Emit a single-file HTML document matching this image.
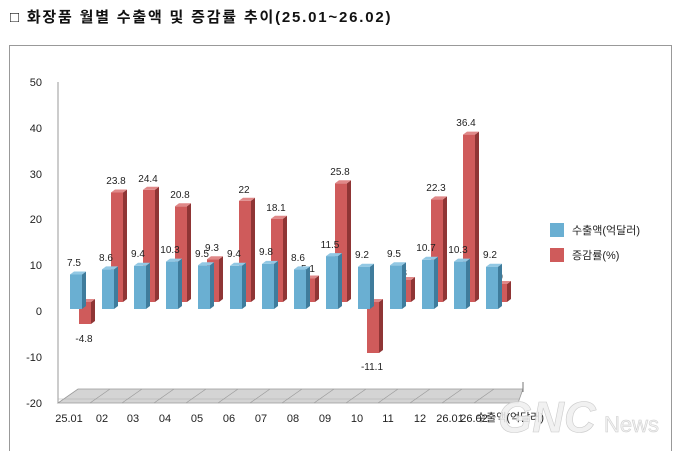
<!DOCTYPE html>
<html><head><meta charset="utf-8"><style>
body{margin:0;background:#fff;width:680px;height:451px;overflow:hidden}
svg{display:block;font-family:"Liberation Sans","Noto Sans CJK KR",sans-serif}
</style></head><body>
<svg width="680" height="451" viewBox="0 0 680 451">
<text x="10" y="22" font-size="15" font-weight="bold" fill="#111" letter-spacing="1.8">□ 화장품 월별 수출액 및 증감률 추이(25.01~26.02)</text>
<rect x="9.5" y="45.5" width="662" height="410" fill="#fff" stroke="#999"/>
<line x1="58" y1="82" x2="58" y2="403" stroke="#999"/>
<g font-size="11" fill="#222" text-anchor="end">
<text x="42" y="86">50</text><text x="42" y="132">40</text><text x="42" y="178">30</text><text x="42" y="223">20</text><text x="42" y="269">10</text><text x="42" y="315">0</text><text x="42" y="361">-10</text><text x="42" y="407">-20</text>
</g>
<polygon points="58,403 518,403 523,389 78,389" fill="#d4d4d4" stroke="#999" stroke-width="0.8"/>
<line x1="58" y1="399" x2="520" y2="399" stroke="#aaa" stroke-width="0.6"/>
<g stroke="#999" stroke-width="0.6">
<line x1="90" y1="403" x2="110" y2="389"/><line x1="122" y1="403" x2="142" y2="389"/><line x1="154" y1="403" x2="174" y2="389"/><line x1="186" y1="403" x2="206" y2="389"/><line x1="218" y1="403" x2="238" y2="389"/><line x1="250" y1="403" x2="270" y2="389"/><line x1="282" y1="403" x2="302" y2="389"/><line x1="314" y1="403" x2="334" y2="389"/><line x1="346" y1="403" x2="366" y2="389"/><line x1="378" y1="403" x2="398" y2="389"/><line x1="410" y1="403" x2="430" y2="389"/><line x1="442" y1="403" x2="462" y2="389"/><line x1="474" y1="403" x2="494" y2="389"/>
</g>
<line x1="523" y1="382" x2="523" y2="392" stroke="#777"/>
<g>
<g transform="translate(79,0)"><rect x="0" y="302" width="12" height="22" fill="#cf5b5b"/><polygon points="12,302 16,299 16,321 12,324" fill="#8f3535"/><polygon points="0,302 4,299 16,299 12,302" fill="#e08888"/></g>
<g transform="translate(111,0)"><rect x="0" y="192.5" width="12" height="109.5" fill="#cf5b5b"/><polygon points="12,192.5 16,189.5 16,299 12,302" fill="#8f3535"/><polygon points="0,192.5 4,189.5 16,189.5 12,192.5" fill="#e08888"/></g>
<g transform="translate(143,0)"><rect x="0" y="189.8" width="12" height="112.2" fill="#cf5b5b"/><polygon points="12,189.8 16,186.8 16,299 12,302" fill="#8f3535"/><polygon points="0,189.8 4,186.8 16,186.8 12,189.8" fill="#e08888"/></g>
<g transform="translate(175,0)"><rect x="0" y="206.3" width="12" height="95.7" fill="#cf5b5b"/><polygon points="12,206.3 16,203.3 16,299 12,302" fill="#8f3535"/><polygon points="0,206.3 4,203.3 16,203.3 12,206.3" fill="#e08888"/></g>
<g transform="translate(207,0)"><rect x="0" y="259.2" width="12" height="42.8" fill="#cf5b5b"/><polygon points="12,259.2 16,256.2 16,299 12,302" fill="#8f3535"/><polygon points="0,259.2 4,256.2 16,256.2 12,259.2" fill="#e08888"/></g>
<g transform="translate(239,0)"><rect x="0" y="200.8" width="12" height="101.2" fill="#cf5b5b"/><polygon points="12,200.8 16,197.8 16,299 12,302" fill="#8f3535"/><polygon points="0,200.8 4,197.8 16,197.8 12,200.8" fill="#e08888"/></g>
<g transform="translate(271,0)"><rect x="0" y="218.7" width="12" height="83.3" fill="#cf5b5b"/><polygon points="12,218.7 16,215.7 16,299 12,302" fill="#8f3535"/><polygon points="0,218.7 4,215.7 16,215.7 12,218.7" fill="#e08888"/></g>
<g transform="translate(303,0)"><rect x="0" y="278.5" width="12" height="23.5" fill="#cf5b5b"/><polygon points="12,278.5 16,275.5 16,299 12,302" fill="#8f3535"/><polygon points="0,278.5 4,275.5 16,275.5 12,278.5" fill="#e08888"/></g>
<g transform="translate(335,0)"><rect x="0" y="183.3" width="12" height="118.7" fill="#cf5b5b"/><polygon points="12,183.3 16,180.3 16,299 12,302" fill="#8f3535"/><polygon points="0,183.3 4,180.3 16,180.3 12,183.3" fill="#e08888"/></g>
<g transform="translate(367,0)"><rect x="0" y="302" width="12" height="51" fill="#cf5b5b"/><polygon points="12,302 16,299 16,350 12,353" fill="#8f3535"/><polygon points="0,302 4,299 16,299 12,302" fill="#e08888"/></g>
<g transform="translate(399,0)"><rect x="0" y="280" width="12" height="22" fill="#cf5b5b"/><polygon points="12,280 16,277 16,299 12,302" fill="#8f3535"/><polygon points="0,280 4,277 16,277 12,280" fill="#e08888"/></g>
<g transform="translate(431,0)"><rect x="0" y="199.4" width="12" height="102.6" fill="#cf5b5b"/><polygon points="12,199.4 16,196.4 16,299 12,302" fill="#8f3535"/><polygon points="0,199.4 4,196.4 16,196.4 12,199.4" fill="#e08888"/></g>
<g transform="translate(463,0)"><rect x="0" y="134.6" width="12" height="167.4" fill="#cf5b5b"/><polygon points="12,134.6 16,131.6 16,299 12,302" fill="#8f3535"/><polygon points="0,134.6 4,131.6 16,131.6 12,134.6" fill="#e08888"/></g>
<g transform="translate(495,0)"><rect x="0" y="284" width="12" height="18" fill="#cf5b5b"/><polygon points="12,284 16,281 16,299 12,302" fill="#8f3535"/><polygon points="0,284 4,281 16,281 12,284" fill="#e08888"/></g>
</g>
<!-- small red labels occluded by blue bars -->
<g font-size="10" fill="#222" text-anchor="middle">
<text x="308" y="272">5.1</text><text x="400" y="276">4.8</text><text x="496" y="280">3.9</text>
</g>
<g>
<g transform="translate(70,0)"><rect x="0" y="274.5" width="12" height="34.5" fill="#6aafd2"/><polygon points="12,274.5 16,271.5 16,306 12,309" fill="#3f7c9c"/><polygon points="0,274.5 4,271.5 16,271.5 12,274.5" fill="#92c8e4"/></g>
<g transform="translate(102,0)"><rect x="0" y="269.4" width="12" height="39.6" fill="#6aafd2"/><polygon points="12,269.4 16,266.4 16,306 12,309" fill="#3f7c9c"/><polygon points="0,269.4 4,266.4 16,266.4 12,269.4" fill="#92c8e4"/></g>
<g transform="translate(134,0)"><rect x="0" y="265.8" width="12" height="43.2" fill="#6aafd2"/><polygon points="12,265.8 16,262.8 16,306 12,309" fill="#3f7c9c"/><polygon points="0,265.8 4,262.8 16,262.8 12,265.8" fill="#92c8e4"/></g>
<g transform="translate(166,0)"><rect x="0" y="261.6" width="12" height="47.4" fill="#6aafd2"/><polygon points="12,261.6 16,258.6 16,306 12,309" fill="#3f7c9c"/><polygon points="0,261.6 4,258.6 16,258.6 12,261.6" fill="#92c8e4"/></g>
<g transform="translate(198,0)"><rect x="0" y="265.3" width="12" height="43.7" fill="#6aafd2"/><polygon points="12,265.3 16,262.3 16,306 12,309" fill="#3f7c9c"/><polygon points="0,265.3 4,262.3 16,262.3 12,265.3" fill="#92c8e4"/></g>
<g transform="translate(230,0)"><rect x="0" y="265.8" width="12" height="43.2" fill="#6aafd2"/><polygon points="12,265.8 16,262.8 16,306 12,309" fill="#3f7c9c"/><polygon points="0,265.8 4,262.8 16,262.8 12,265.8" fill="#92c8e4"/></g>
<g transform="translate(262,0)"><rect x="0" y="263.9" width="12" height="45.1" fill="#6aafd2"/><polygon points="12,263.9 16,260.9 16,306 12,309" fill="#3f7c9c"/><polygon points="0,263.9 4,260.9 16,260.9 12,263.9" fill="#92c8e4"/></g>
<g transform="translate(294,0)"><rect x="0" y="269.4" width="12" height="39.6" fill="#6aafd2"/><polygon points="12,269.4 16,266.4 16,306 12,309" fill="#3f7c9c"/><polygon points="0,269.4 4,266.4 16,266.4 12,269.4" fill="#92c8e4"/></g>
<g transform="translate(326,0)"><rect x="0" y="256.1" width="12" height="52.9" fill="#6aafd2"/><polygon points="12,256.1 16,253.1 16,306 12,309" fill="#3f7c9c"/><polygon points="0,256.1 4,253.1 16,253.1 12,256.1" fill="#92c8e4"/></g>
<g transform="translate(358,0)"><rect x="0" y="266.7" width="12" height="42.3" fill="#6aafd2"/><polygon points="12,266.7 16,263.7 16,306 12,309" fill="#3f7c9c"/><polygon points="0,266.7 4,263.7 16,263.7 12,266.7" fill="#92c8e4"/></g>
<g transform="translate(390,0)"><rect x="0" y="265.3" width="12" height="43.7" fill="#6aafd2"/><polygon points="12,265.3 16,262.3 16,306 12,309" fill="#3f7c9c"/><polygon points="0,265.3 4,262.3 16,262.3 12,265.3" fill="#92c8e4"/></g>
<g transform="translate(422,0)"><rect x="0" y="259.8" width="12" height="49.2" fill="#6aafd2"/><polygon points="12,259.8 16,256.8 16,306 12,309" fill="#3f7c9c"/><polygon points="0,259.8 4,256.8 16,256.8 12,259.8" fill="#92c8e4"/></g>
<g transform="translate(454,0)"><rect x="0" y="261.6" width="12" height="47.4" fill="#6aafd2"/><polygon points="12,261.6 16,258.6 16,306 12,309" fill="#3f7c9c"/><polygon points="0,261.6 4,258.6 16,258.6 12,261.6" fill="#92c8e4"/></g>
<g transform="translate(486,0)"><rect x="0" y="266.7" width="12" height="42.3" fill="#6aafd2"/><polygon points="12,266.7 16,263.7 16,306 12,309" fill="#3f7c9c"/><polygon points="0,266.7 4,263.7 16,263.7 12,266.7" fill="#92c8e4"/></g>
</g>
<g font-size="10" fill="#222" text-anchor="middle">
<text x="74" y="266">7.5</text><text x="106" y="261">8.6</text><text x="138" y="257">9.4</text><text x="170" y="253">10.3</text><text x="202" y="257">9.5</text><text x="234" y="257">9.4</text><text x="266" y="255">9.8</text><text x="298" y="261">8.6</text><text x="330" y="248">11.5</text><text x="362" y="258">9.2</text><text x="394" y="257">9.5</text><text x="426" y="251">10.7</text><text x="458" y="253">10.3</text><text x="490" y="258">9.2</text>
<text x="84" y="342">-4.8</text><text x="116" y="184">23.8</text><text x="148" y="182">24.4</text><text x="180" y="198">20.8</text><text x="212" y="251">9.3</text><text x="244" y="193">22</text><text x="276" y="211">18.1</text><text x="340" y="175">25.8</text><text x="372" y="370">-11.1</text><text x="436" y="191">22.3</text><text x="466" y="126">36.4</text>
</g>
<g font-size="11" fill="#222" text-anchor="middle">
<text x="69" y="422">25.01</text><text x="102" y="422">02</text><text x="133" y="422">03</text><text x="165" y="422">04</text><text x="197" y="422">05</text><text x="229" y="422">06</text><text x="261" y="422">07</text><text x="293" y="422">08</text><text x="325" y="422">09</text><text x="357" y="422">10</text><text x="388" y="422">11</text><text x="420" y="422">12</text><text x="450" y="422">26.01</text><text x="474" y="422">26.02</text>
<text x="510" y="421" font-size="11">수출액(억달러)</text>
</g>
<rect x="550" y="223" width="14" height="14" fill="#6aafd2"/>
<text x="572" y="234" font-size="11" fill="#222">수출액(억달러)</text>
<rect x="550" y="248" width="14" height="14" fill="#cf5b5b"/>
<text x="572" y="259" font-size="11" fill="#222">증감률(%)</text>
<text x="498" y="432" font-size="44" font-weight="bold" font-style="italic" fill="#eeeeee" fill-opacity="0.85" stroke="#ccc" stroke-width="0.6">GNC</text>
<text x="604" y="432" font-size="22" fill="#eeeeee" fill-opacity="0.85" stroke="#ccc" stroke-width="0.5">News</text>
</svg>
</body></html>
